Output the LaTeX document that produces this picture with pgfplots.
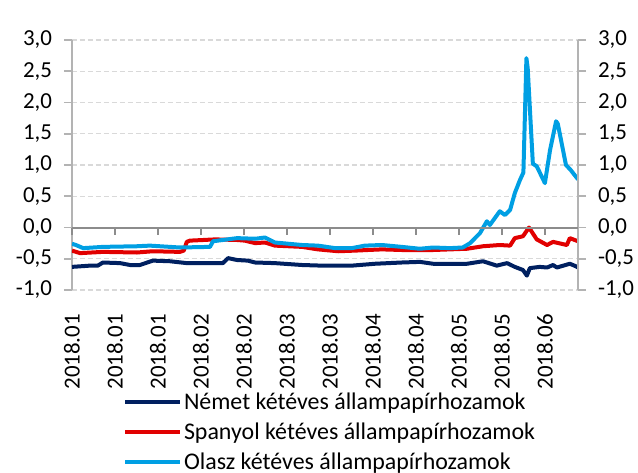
\documentclass[border=0pt]{standalone}
\usepackage{pgfplots}
\pgfplotsset{compat=1.18}
\usepackage{fontspec}
\setmainfont{Carlito}
\definecolor{nemet}{HTML}{002060}
\definecolor{spanyol}{HTML}{E10000}
\definecolor{olasz}{HTML}{009FE3}
\definecolor{axgray}{HTML}{B3B3B3}
\definecolor{zerogray}{HTML}{8C8C8C}
\definecolor{gridgray}{HTML}{D9D9D9}
\begin{document}
\begin{tikzpicture}
\useasboundingbox (-36bp,-91.5bp) rectangle (283bp,145bp);
\pgfplotsset{
  common/.style={
    scale only axis, width=253bp, height=125bp,
    xmin=0, xmax=117.7, ymin=-1, ymax=3,
    ytick={-1,-0.5,0,0.5,1,1.5,2,2.5,3},
    /pgf/number format/assume math mode=true,
    tick label style={font=\fontsize{11.5}{13.8}\selectfont},
    yticklabel style={/pgf/number format/fixed, /pgf/number format/fixed zerofill, /pgf/number format/precision=1, /pgf/number format/use comma},
    tick style={axgray, line width=0.8pt},
    major tick length=4bp,
    axis line style={axgray, line width=0.8pt},
    ytick align=outside,
  }
}
\begin{axis}[common,
  axis y line*=left,
  axis x line*=bottom,
  x axis line style={draw=none},
  xtick={0,10,20,30,40,50,60,70,80,90,100,110},
  xticklabels={2018.01,2018.01,2018.01,2018.02,2018.02,2018.03,2018.03,2018.04,2018.04,2018.05,2018.05,2018.06},
  xtick align=inside,
  xtick style={draw=none},
  xticklabel style={yshift=-8.5bp, rotate=90, anchor=east},
  yticklabel style={xshift=-2.5bp},
  ymajorgrids,
  grid style={gridgray, dash pattern=on 2.5bp off 1.5bp, line width=0.7pt},
  legend style={at={(0.51,-0.385)}, anchor=north, draw=none, fill=none,
    font=\fontsize{12}{14.4}\selectfont, row sep=3.2bp,
    nodes={inner sep=1bp}},
  legend cell align=left,
  legend image code/.code={\draw[#1, line width=2bp] (0bp,0bp) -- (27.5bp,0bp);},
  every axis plot/.append style={line width=2bp, line join=round},
]
\addplot[nemet] coordinates {
(0,-0.63) (4.2,-0.61) (6,-0.61) (7.2,-0.56) (11.2,-0.57) (13.5,-0.60) (15.8,-0.60)
(18.8,-0.53) (22.8,-0.54) (26.7,-0.57) (30.5,-0.57) (35.1,-0.57) (36.3,-0.49)
(38.4,-0.52) (40.9,-0.53) (42.6,-0.56) (47.2,-0.57) (53.5,-0.60) (58.1,-0.61)
(65.1,-0.61) (70.5,-0.58) (76.7,-0.56) (80.9,-0.55) (84,-0.58) (91.9,-0.58)
(95.6,-0.54) (98.8,-0.61) (101.2,-0.57) (103,-0.63) (104.9,-0.68) (105.8,-0.77)
(106.5,-0.65) (108.8,-0.63) (110.5,-0.64) (111.9,-0.60) (112.8,-0.64) (115.8,-0.58)
(117.2,-0.62) (117.7,-0.64)
};
\addlegendentry{Német kétéves állampapírhozamok}
\addplot[spanyol] coordinates {
(0,-0.37) (1.9,-0.41) (7.2,-0.39) (15.1,-0.40) (18.8,-0.38) (25.1,-0.39) (26,-0.37)
(26.7,-0.23) (27.4,-0.21) (30.5,-0.20) (33.3,-0.19) (38.4,-0.20) (40.2,-0.21)
(42.6,-0.25) (44.9,-0.24) (47.2,-0.29) (53.5,-0.31) (57.2,-0.35) (61.9,-0.38)
(65.8,-0.37) (68.8,-0.36) (72.1,-0.35) (76.7,-0.36) (84,-0.36) (91.9,-0.34)
(95.6,-0.30) (99.5,-0.28) (101.9,-0.29) (103,-0.17) (104.9,-0.14) (106.3,0.0)
(108.1,-0.19) (110.5,-0.28) (111.9,-0.23) (115.1,-0.28) (115.8,-0.17) (117.7,-0.22)
};
\addlegendentry{Spanyol kétéves állampapírhozamok}
\addplot[olasz] coordinates {
(0,-0.26) (0.9,-0.28) (2.6,-0.33) (7.2,-0.31) (15.1,-0.30) (18.1,-0.29) (22.8,-0.31)
(25.1,-0.32) (32.1,-0.31) (32.8,-0.22) (38.4,-0.17) (42.6,-0.18) (44.9,-0.16)
(47.2,-0.24) (53.5,-0.28) (57.2,-0.29) (61.2,-0.33) (65.1,-0.33) (68.1,-0.29)
(72.1,-0.28) (76.7,-0.31) (80.9,-0.34) (84,-0.32) (87.9,-0.33) (90.9,-0.32)
(92.6,-0.25) (94.9,-0.09) (96.5,0.10) (97.2,0.04) (99.5,0.26) (100.7,0.20)
(101.9,0.28) (103,0.55) (104.2,0.76) (105,0.88) (105.7,2.71) (106,2.55)
(107.2,1.02) (108.1,0.98) (110,0.71) (111.2,1.24) (112.6,1.70) (113,1.66)
(114.9,1.00) (116,0.92) (117.7,0.77)
};
\addlegendentry{Olasz kétéves állampapírhozamok}
\node[font=\fontsize{12}{14.4}\selectfont, anchor=south] at ([xshift=6.5bp,yshift=2bp]rel axis cs:0,1) {\%};
\node[font=\fontsize{12}{14.4}\selectfont, anchor=south] at ([xshift=-7.5bp,yshift=2bp]rel axis cs:1,1) {\%};
\end{axis}
\begin{axis}[common,
  axis y line*=right,
  axis x line=none,
  yticklabel style={xshift=2.5bp},
  clip=false,
]
% zero line of the category axis, with its tick marks pointing down
\addplot[zerogray, line width=1bp, mark=none] coordinates {(0,0) (117.7,0)};
\addplot[zerogray, line width=1bp, only marks, mark=|, mark size=1.75bp,
  mark options={zerogray, line width=1bp, solid}]
  coordinates {(0,-0.056) (10,-0.056) (20,-0.056) (30,-0.056) (40,-0.056) (50,-0.056)
  (60,-0.056) (70,-0.056) (80,-0.056) (90,-0.056) (100,-0.056) (110,-0.056)};
\end{axis}
\end{tikzpicture}
\end{document}
